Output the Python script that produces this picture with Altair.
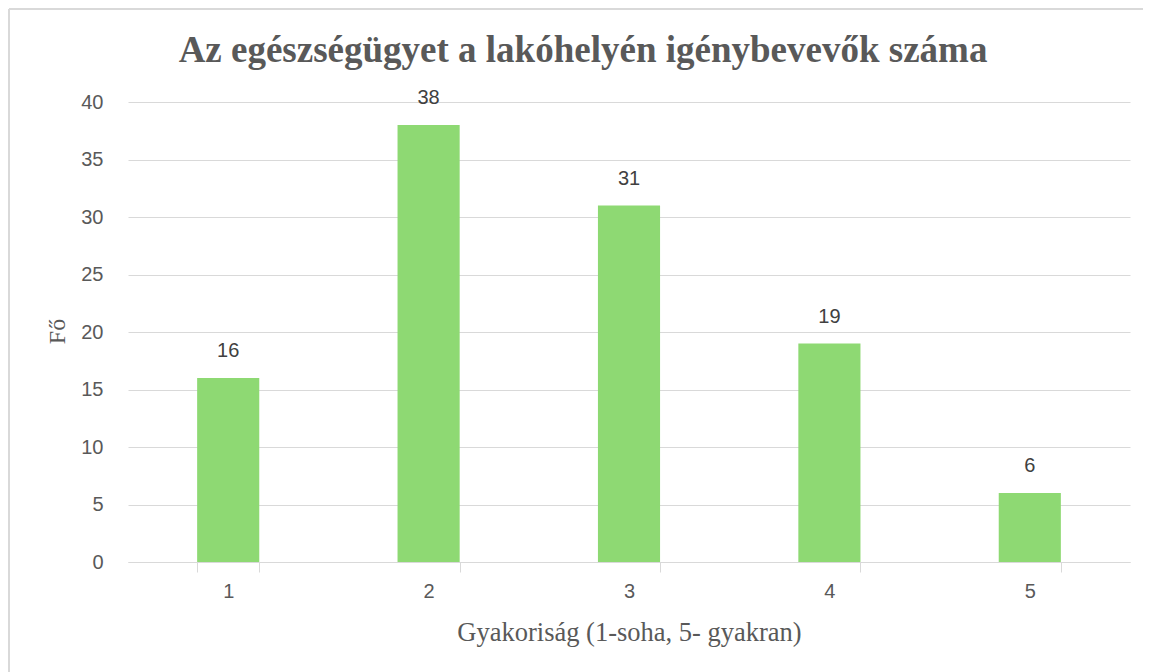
import altair as alt
import pandas as pd

categories = ["1", "2", "3", "4", "5"]
values = [16, 38, 31, 19, 6]

df = pd.DataFrame({"cat": categories, "val": values})

GRAY = "#595959"
GRID = "#d9d9d9"
SERIF = "Liberation Serif"
SANS = "Liberation Sans"

x = alt.X("cat:N", sort=categories,
          scale=alt.Scale(paddingInner=0.69, paddingOuter=0.345),
          axis=alt.Axis(title="Gyakoriság (1-soha, 5- gyakran)", labelAngle=0,
                        tickBand="extent", tickSize=10, tickColor=GRID,
                        domainColor=GRID, labelPadding=9, labelFontSize=20,
                        labelFont=SANS, labelColor=GRAY,
                        titleFont=SERIF, titleFontSize=26.5, titleFontWeight="normal",
                        titleColor=GRAY, titleX=501, titleY=70,
                        titleBaseline="middle", titleAlign="center"))
y = alt.Y("val:Q", scale=alt.Scale(domain=[0, 40]),
          axis=alt.Axis(title="Fő", values=list(range(0, 41, 5)), grid=True,
                        gridColor=GRID, domain=False, ticks=False,
                        labelPadding=25, labelFontSize=20, labelFont=SANS,
                        labelColor=GRAY, titleFont=SERIF, titleFontSize=24,
                        titleFontWeight="normal", titleColor=GRAY,
                        titleX=-71, titleY=229, titleAngle=-90,
                        titleBaseline="middle", titleAlign="center"))

bars = alt.Chart(df).mark_bar(color="#8ED973").encode(x=x, y=y)
labels = alt.Chart(df).mark_text(dy=-27, fontSize=20, font=SANS, color="#404040",
                                  baseline="middle").encode(
    x=alt.X("cat:N", sort=categories), y="val:Q", text="val:Q")

frame_left = alt.Chart(df).mark_rule(color=GRID, strokeWidth=2).encode(
    x=alt.value(-119), y=alt.value(-93), y2=alt.value(600))
frame_top = alt.Chart(df).mark_rule(color=GRID, strokeWidth=2).encode(
    x=alt.value(-119), x2=alt.value(1020), y=alt.value(-93))

chart = alt.layer(frame_left, frame_top, bars, labels).properties(
    width=1002, height=460,
    autosize=alt.AutoSizeParams(type="none"),
    padding={"left": 120, "top": 94, "right": 13, "bottom": 110},
    title=alt.TitleParams("Az egészségügyet a lakóhelyén igénybevevők száma",
                          font=SERIF, fontSize=37, fontWeight="bold", color=GRAY,
                          anchor="middle", dx=-46, offset=-62),
).configure_view(stroke=None).configure_axis(gridWidth=1)

chart.save("out.html", embed_options={"renderer": "svg", "actions": False})
